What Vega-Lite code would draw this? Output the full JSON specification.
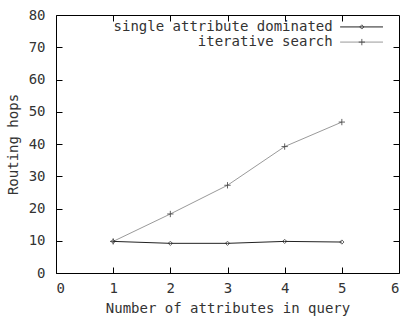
{
  "$schema": "https://vega.github.io/schema/vega-lite/v6.json",
  "width": 343,
  "height": 258,
  "autosize": "none",
  "padding": {"left": 56, "top": 15, "right": 3, "bottom": 45},
  "background": "white",
  "config": {
    "view": {"stroke": "black", "strokeWidth": 1},
    "axis": {
      "domain": false, "grid": false, "ticks": true, "tickColor": "#000000", "tickWidth": 1, "tickSize": 6, "offset": -6, "zindex": 2,
      "labelFont": "DejaVu Sans Mono", "labelFontSize": 14, "labelColor": "#333",
      "titleFont": "DejaVu Sans Mono", "titleFontSize": 14, "titleFontWeight": "normal", "titleColor": "#333"
    }
  },
  "datasets": {
    "series": [
      {"attrs": 1, "hops": 9.8, "method": "single attribute dominated"},
      {"attrs": 2, "hops": 9.2, "method": "single attribute dominated"},
      {"attrs": 3, "hops": 9.2, "method": "single attribute dominated"},
      {"attrs": 4, "hops": 9.8, "method": "single attribute dominated"},
      {"attrs": 5, "hops": 9.6, "method": "single attribute dominated"},
      {"attrs": 1, "hops": 9.8, "method": "iterative search"},
      {"attrs": 2, "hops": 18.3, "method": "iterative search"},
      {"attrs": 3, "hops": 27.2, "method": "iterative search"},
      {"attrs": 4, "hops": 39.2, "method": "iterative search"},
      {"attrs": 5, "hops": 46.8, "method": "iterative search"}
    ],
    "legend": [
      {"method": "single attribute dominated", "tx": 4.84, "x1": 4.97, "x2": 5.72, "px": 5.35, "ly": 76.3},
      {"method": "iterative search", "tx": 4.84, "x1": 4.97, "x2": 5.72, "px": 5.35, "ly": 71.6}
    ]
  },
  "resolve": {"axis": {"x": "independent", "y": "independent"}},
  "layer": [
    {
      "data": {"name": "series"},
      "mark": {"type": "line", "strokeWidth": 1},
      "encoding": {
        "x": {"field": "attrs", "type": "quantitative", "scale": {"domain": [0, 6], "nice": false},
              "axis": {"title": "Number of attributes in query", "values": [0, 1, 2, 3, 4, 5, 6], "labelPadding": 8, "titlePadding": 6}},
        "y": {"field": "hops", "type": "quantitative", "scale": {"domain": [0, 80], "nice": false},
              "axis": {"title": "Routing hops", "values": [0, 10, 20, 30, 40, 50, 60, 70, 80], "labelPadding": 11, "titlePadding": 8}},
        "color": {"field": "method", "type": "nominal", "legend": null,
                  "scale": {"domain": ["single attribute dominated", "iterative search"], "range": ["#222222", "#9a9a9a"]}}
      }
    },
    {
      "data": {"name": "series"},
      "mark": {"type": "point", "filled": false, "strokeWidth": 1},
      "encoding": {
        "x": {"field": "attrs", "type": "quantitative", "scale": {"domain": [0, 6], "nice": false},
              "axis": {"orient": "top", "title": null, "labels": false, "values": [1, 2, 3, 4, 5]}},
        "y": {"field": "hops", "type": "quantitative", "scale": {"domain": [0, 80], "nice": false},
              "axis": {"orient": "right", "title": null, "labels": false, "values": [10, 20, 30, 40, 50, 60, 70]}},
        "shape": {"field": "method", "type": "nominal", "legend": null,
                  "scale": {"domain": ["single attribute dominated", "iterative search"], "range": ["diamond", "M-1,0L1,0M0,-1L0,1"]}},
        "size": {"field": "method", "type": "nominal", "legend": null,
                 "scale": {"domain": ["single attribute dominated", "iterative search"], "range": [18, 40]}},
        "color": {"value": "#222222"}
      }
    },
    {
      "data": {"name": "legend"},
      "mark": {"type": "text", "align": "right", "baseline": "middle", "font": "DejaVu Sans Mono", "fontSize": 14, "color": "#333"},
      "encoding": {
        "x": {"field": "tx", "type": "quantitative", "axis": null},
        "y": {"field": "ly", "type": "quantitative", "axis": null},
        "text": {"field": "method"}
      }
    },
    {
      "data": {"name": "legend"},
      "mark": {"type": "rule", "strokeWidth": 1},
      "encoding": {
        "x": {"field": "x1", "type": "quantitative", "axis": null},
        "x2": {"field": "x2"},
        "y": {"field": "ly", "type": "quantitative", "axis": null},
        "color": {"field": "method", "type": "nominal", "legend": null}
      }
    },
    {
      "data": {"name": "legend"},
      "mark": {"type": "point", "filled": false, "strokeWidth": 1, "color": "#222222"},
      "encoding": {
        "x": {"field": "px", "type": "quantitative", "axis": null},
        "y": {"field": "ly", "type": "quantitative", "axis": null},
        "shape": {"field": "method", "type": "nominal", "legend": null},
        "size": {"field": "method", "type": "nominal", "legend": null}
      }
    }
  ]
}
